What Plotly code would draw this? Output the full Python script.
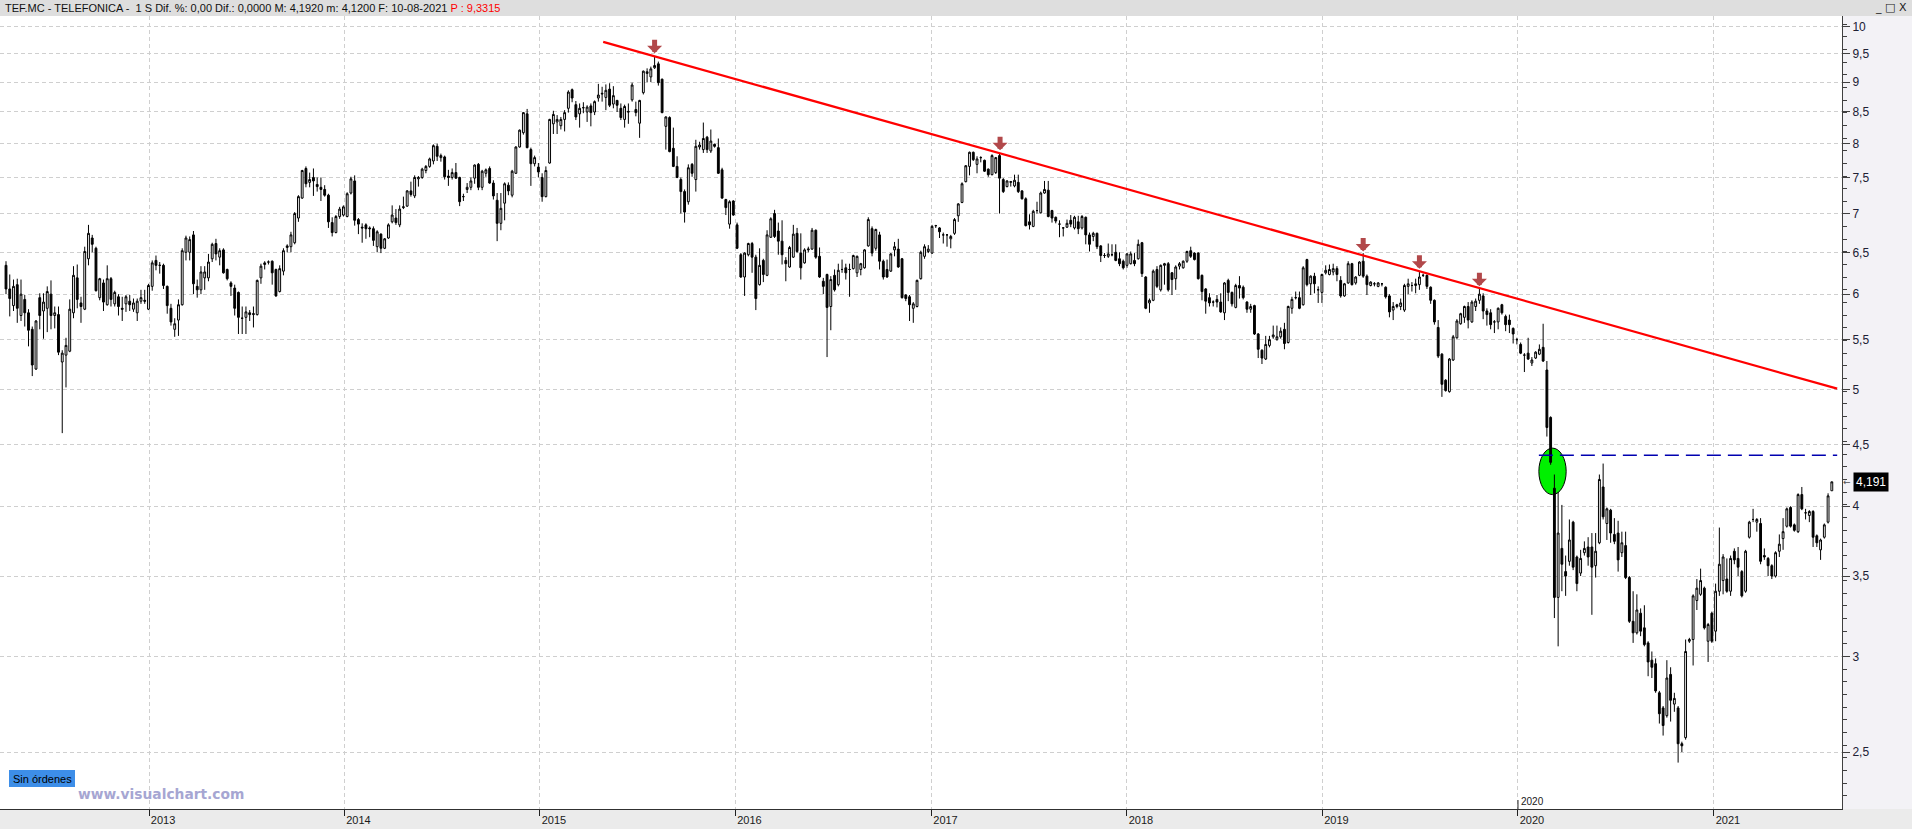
import numpy as np
import pandas as pd
import plotly.graph_objects as go

# ---------------- weekly bars (open, high, low, close) ----------------
w2012 = [
 (6.34,6.39,6.00,6.06),(6.06,6.23,5.75,5.95),(5.87,6.17,5.81,6.09),(6.11,6.18,5.68,5.84),
 (5.76,6.17,5.70,6.00),(5.94,5.99,5.64,5.79),(5.79,5.83,5.43,5.60),(5.61,5.64,5.13,5.24),
 (5.20,5.71,5.19,5.70),(5.96,6.01,5.61,5.76),(5.81,6.01,5.51,5.91),(5.84,6.09,5.58,6.03),
 (6.00,6.16,5.61,5.76),(5.76,5.86,5.62,5.79),(5.77,5.86,5.34,5.37),(5.27,5.39,4.60,5.36),
 (5.34,5.52,5.02,5.44),(5.38,5.94,5.37,5.83),(5.79,6.33,5.73,6.22),(6.19,6.35,5.84,5.94),
 (5.90,5.97,5.68,5.86),(5.83,6.57,5.82,6.51),(6.42,6.85,6.34,6.74),(6.68,6.72,6.50,6.60),
 (6.55,6.57,6.03,6.04),(5.96,6.19,5.93,6.18),(6.13,6.17,5.81,5.91),(5.88,6.34,5.87,6.18),
 (6.18,6.20,5.86,5.94),(5.89,6.04,5.86,6.02),(5.97,6.00,5.76,5.86),(5.84,5.97,5.70,5.83),
 (5.89,5.99,5.80,5.97),(5.92,5.99,5.81,5.88),(5.83,5.95,5.80,5.90),(5.79,5.95,5.70,5.92),
 (5.92,6.05,5.89,5.96),(5.93,6.05,5.89,5.92),
]
w2013 = [
 (5.83,6.12,5.82,6.10),(6.09,6.40,6.04,6.37),(6.40,6.46,6.28,6.34),(6.34,6.38,6.24,6.34),
 (6.34,6.36,6.06,6.10),(6.09,6.10,5.78,5.87),(5.84,5.89,5.65,5.69),(5.61,5.73,5.53,5.67),
 (5.71,5.94,5.54,5.88),(5.88,6.55,5.87,6.52),(6.50,6.71,6.40,6.68),(6.50,6.70,6.40,6.66),
 (6.72,6.77,6.00,6.12),(6.09,6.17,5.96,6.05),(6.05,6.33,6.00,6.26),(6.19,6.33,6.05,6.26),
 (6.19,6.48,6.15,6.38),(6.42,6.62,6.38,6.60),(6.61,6.67,6.40,6.48),(6.44,6.55,6.34,6.52),
 (6.53,6.55,6.24,6.25),(6.29,6.30,6.16,6.18),(6.13,6.15,5.98,6.09),(6.07,6.11,5.76,5.84),
 (6.02,6.03,5.56,5.74),(5.73,5.86,5.56,5.73),(5.74,5.86,5.56,5.80),(5.79,5.82,5.70,5.77),
 (5.77,5.86,5.63,5.78),(5.77,6.17,5.76,6.16),(6.19,6.36,6.12,6.33),(6.35,6.39,6.29,6.37),
 (6.38,6.40,6.35,6.38),(6.39,6.40,6.11,6.25),(6.29,6.30,5.97,5.98),(6.03,6.34,6.02,6.30),
 (6.27,6.55,6.22,6.52),(6.56,6.60,6.50,6.58),(6.57,6.76,6.50,6.72),(6.62,7.02,6.60,7.00),
 (6.94,7.25,6.89,7.23),(7.21,7.61,7.20,7.60),(7.63,7.66,7.36,7.41),(7.43,7.57,7.36,7.47),
 (7.50,7.63,7.24,7.45),(7.40,7.50,7.30,7.37),(7.36,7.50,7.17,7.33),(7.33,7.39,7.23,7.25),
 (7.25,7.27,6.81,6.89),(6.88,6.95,6.70,6.75),(6.75,6.98,6.74,6.96),(6.96,7.09,6.93,7.06),
]
w2014 = [
 (6.98,7.11,6.96,7.09),(6.96,7.29,6.95,7.27),(7.28,7.51,7.26,7.48),(7.45,7.53,6.84,6.91),
 (6.92,6.94,6.73,6.86),(6.82,6.87,6.62,6.81),(6.85,6.87,6.67,6.80),(6.81,6.83,6.69,6.80),
 (6.80,6.83,6.58,6.65),(6.57,6.78,6.50,6.76),(6.73,6.74,6.49,6.55),(6.55,6.68,6.54,6.67),
 (6.68,6.87,6.67,6.85),(6.89,7.11,6.87,6.98),(6.94,7.06,6.85,6.88),(6.85,7.11,6.82,7.06),
 (7.08,7.23,7.06,7.09),(7.10,7.32,7.09,7.31),(7.31,7.44,7.23,7.26),(7.24,7.53,7.21,7.50),
 (7.48,7.52,7.37,7.50),(7.50,7.64,7.48,7.62),(7.60,7.68,7.56,7.66),(7.66,7.79,7.64,7.77),
 (7.74,7.99,7.69,7.97),(7.96,8.00,7.74,7.81),(7.79,7.85,7.73,7.82),(7.80,7.82,7.47,7.51),
 (7.52,7.61,7.38,7.50),(7.50,7.63,7.47,7.57),(7.57,7.71,7.48,7.49),(7.50,7.51,7.10,7.16),
 (7.23,7.27,7.17,7.23),(7.33,7.42,7.28,7.36),(7.36,7.50,7.32,7.45),(7.49,7.69,7.41,7.68),
 (7.69,7.71,7.32,7.36),(7.36,7.61,7.32,7.59),(7.56,7.63,7.51,7.61),(7.63,7.66,7.41,7.42),
 (7.42,7.46,7.19,7.24),(7.18,7.28,6.64,6.87),(6.87,7.28,6.78,7.07),(7.14,7.43,6.91,7.41),
 (7.39,7.43,7.25,7.31),(7.25,7.61,7.22,7.59),(7.56,7.96,7.55,7.95),(7.95,8.22,7.94,8.21),
 (8.17,8.50,8.14,8.49),(8.47,8.55,7.93,7.94),(7.91,7.94,7.38,7.70),(7.70,7.82,7.66,7.79),
]
w2015 = [
 (7.65,7.71,7.50,7.58),(7.50,7.56,7.16,7.23),(7.23,7.66,7.22,7.60),(7.71,8.39,7.70,8.38),
 (8.31,8.52,8.15,8.46),(8.34,8.45,8.15,8.38),(8.28,8.42,8.22,8.38),(8.38,8.53,8.19,8.49),
 (8.56,8.86,8.49,8.83),(8.87,8.89,8.66,8.73),(8.62,8.68,8.37,8.42),(8.47,8.64,8.25,8.56),
 (8.57,8.66,8.48,8.57),(8.50,8.61,8.34,8.58),(8.60,8.64,8.27,8.49),(8.50,8.69,8.45,8.67),
 (8.73,8.97,8.67,8.78),(8.81,8.92,8.67,8.80),(8.74,8.96,8.53,8.86),(8.88,8.98,8.58,8.61),
 (8.63,8.93,8.56,8.77),(8.69,8.70,8.50,8.61),(8.56,8.64,8.37,8.41),(8.38,8.62,8.25,8.59),
 (8.51,8.64,8.31,8.50),(8.70,8.99,8.67,8.95),(8.54,8.67,8.43,8.49),(8.32,8.70,8.09,8.69),
 (8.82,9.20,8.79,9.19),(9.15,9.24,9.00,9.18),(9.09,9.27,9.00,9.23),(9.25,9.45,9.23,9.29),
 (9.32,9.36,8.94,8.99),(9.05,9.06,8.48,8.49),(8.27,8.43,7.91,8.42),(8.41,8.43,7.87,7.88),
 (7.93,8.25,7.65,7.66),(7.66,7.81,7.49,7.50),(7.47,7.50,7.00,7.30),(7.30,7.33,6.88,7.02),
 (7.16,7.69,7.12,7.64),(7.69,7.71,7.51,7.56),(7.47,8.06,7.30,7.96),(7.95,8.03,7.91,7.98),
 (7.91,8.33,7.86,8.08),(8.10,8.12,7.86,7.91),(7.89,8.22,7.86,8.04),(7.99,8.00,7.94,7.96),
 (7.94,8.08,7.55,7.56),(7.61,7.64,7.20,7.21),(7.19,7.20,6.98,7.08),(6.86,7.18,6.80,7.16),
 (7.17,7.18,6.97,6.98),
]
w2016 = [
 (6.85,6.88,6.54,6.55),(6.47,6.49,6.19,6.20),(6.20,6.50,5.98,6.49),(6.47,6.62,6.45,6.61),
 (6.61,6.63,6.25,6.44),(6.44,6.47,5.82,5.95),(6.11,6.55,6.10,6.34),(6.40,6.42,6.14,6.23),
 (6.22,6.78,6.21,6.72),(6.69,6.95,6.68,6.93),(7.00,7.05,6.68,6.70),(6.77,6.88,6.47,6.64),
 (6.64,6.91,6.35,6.47),(6.40,6.44,6.15,6.36),(6.32,6.58,6.31,6.56),(6.44,6.85,6.43,6.73),
 (6.74,6.81,6.49,6.51),(6.49,6.74,6.17,6.31),(6.37,6.55,6.36,6.53),(6.53,6.57,6.50,6.54),
 (6.54,6.81,6.53,6.78),(6.78,6.79,6.42,6.44),(6.45,6.56,6.19,6.20),(6.15,6.19,6.00,6.09),
 (6.23,6.24,5.32,5.85),(5.86,6.21,5.60,6.17),(6.22,6.29,6.03,6.05),(6.11,6.36,6.09,6.28),
 (6.29,6.41,6.25,6.29),(6.31,6.36,6.17,6.25),(6.29,6.36,5.97,6.29),(6.30,6.47,6.29,6.46),
 (6.25,6.46,6.20,6.45),(6.29,6.37,6.22,6.36),(6.31,6.54,6.30,6.53),(6.58,6.95,6.57,6.92),
 (6.80,6.83,6.45,6.49),(6.55,6.80,6.52,6.79),(6.72,6.76,6.29,6.39),(6.39,6.41,6.17,6.20),
 (6.29,6.41,6.19,6.20),(6.27,6.49,6.26,6.48),(6.53,6.63,6.45,6.57),(6.54,6.67,6.31,6.32),
 (6.42,6.43,5.95,5.96),(5.99,6.00,5.92,5.95),(5.97,5.99,5.70,5.88),(5.84,5.91,5.68,5.89),
 (5.86,6.17,5.85,6.16),(6.18,6.52,6.17,6.50),(6.45,6.60,6.42,6.57),(6.51,6.59,6.49,6.54),
]
w2017 = [
 (6.49,6.85,6.48,6.83),(6.84,6.85,6.81,6.84),(6.81,6.82,6.68,6.76),(6.72,6.75,6.61,6.72),
 (6.72,6.73,6.57,6.72),(6.67,6.72,6.55,6.70),(6.74,6.94,6.72,6.92),(6.97,7.14,6.89,7.13),
 (7.15,7.43,7.14,7.41),(7.44,7.68,7.43,7.67),(7.66,7.88,7.53,7.87),(7.87,7.88,7.74,7.76),
 (7.69,7.81,7.56,7.77),(7.79,7.81,7.72,7.79),(7.75,7.76,7.58,7.59),(7.62,7.63,7.51,7.54),
 (7.54,7.84,7.53,7.82),(7.57,7.80,7.55,7.79),(7.82,7.86,7.00,7.49),(7.47,7.49,7.28,7.30),
 (7.37,7.46,7.36,7.45),(7.43,7.45,7.37,7.44),(7.38,7.54,7.36,7.46),(7.43,7.54,7.28,7.30),
 (7.31,7.32,7.19,7.20),(7.20,7.22,6.83,6.84),(6.89,6.99,6.79,6.85),(6.83,7.05,6.82,7.03),
 (7.04,7.16,7.00,7.04),(7.01,7.30,7.00,7.28),(7.28,7.45,7.27,7.33),(7.32,7.45,6.95,6.96),
 (7.04,7.05,6.88,6.94),(6.95,6.96,6.87,6.90),(6.86,6.91,6.69,6.86),(6.81,6.82,6.70,6.81),
 (6.82,6.92,6.81,6.87),(6.91,6.98,6.82,6.86),(6.81,6.97,6.79,6.95),(6.89,6.97,6.73,6.80),
 (6.81,6.98,6.79,6.96),(6.95,6.96,6.60,6.72),(6.72,6.75,6.51,6.60),(6.70,6.76,6.64,6.74),
 (6.74,6.75,6.54,6.57),(6.58,6.59,6.38,6.46),(6.46,6.49,6.43,6.46),(6.45,6.61,6.43,6.48),
 (6.47,6.60,6.45,6.47),(6.50,6.60,6.39,6.40),(6.42,6.50,6.33,6.36),(6.39,6.41,6.29,6.31),
]
w2018 = [
 (6.34,6.49,6.31,6.48),(6.36,6.51,6.35,6.48),(6.40,6.49,6.33,6.36),(6.42,6.66,6.41,6.60),
 (6.62,6.63,6.20,6.24),(6.20,6.21,5.83,5.84),(5.90,5.95,5.79,5.93),(5.93,6.29,5.92,6.27),
 (6.29,6.33,6.07,6.09),(6.05,6.35,6.03,6.34),(6.34,6.37,6.11,6.36),(6.36,6.38,6.03,6.05),
 (6.25,6.26,5.99,6.17),(6.18,6.34,6.05,6.32),(6.33,6.38,6.29,6.36),(6.31,6.40,6.30,6.39),
 (6.39,6.52,6.37,6.51),(6.52,6.57,6.43,6.45),(6.49,6.50,6.40,6.41),(6.49,6.50,6.17,6.18),
 (6.22,6.23,5.93,6.03),(6.06,6.07,5.78,5.92),(5.96,6.01,5.86,5.90),(5.91,5.93,5.86,5.91),
 (5.94,5.99,5.85,5.91),(5.91,6.01,5.79,5.80),(5.79,6.14,5.71,6.13),(6.16,6.18,5.92,6.02),
 (6.02,6.03,5.86,5.89),(5.85,6.12,5.84,6.10),(6.10,6.21,5.95,6.07),(6.08,6.10,5.94,5.96),
 (5.91,5.92,5.79,5.83),(5.83,5.89,5.79,5.86),(5.87,5.88,5.55,5.56),(5.56,5.57,5.31,5.40),
 (5.39,5.40,5.25,5.31),(5.30,5.54,5.29,5.45),(5.44,5.54,5.42,5.50),(5.53,5.65,5.51,5.55),
 (5.50,5.65,5.49,5.53),(5.53,5.63,5.51,5.59),(5.61,5.68,5.40,5.46),(5.47,5.87,5.46,5.86),
 (5.84,5.97,5.78,5.94),(5.96,6.03,5.94,5.96),(5.96,6.03,5.83,5.84),(5.88,6.33,5.87,6.31),
 (6.41,6.42,6.09,6.11),(6.12,6.22,5.99,6.21),(6.21,6.25,6.01,6.12),(6.05,6.09,5.90,6.05),
 (6.02,6.24,5.90,6.23),
]
w2019 = [
 (6.25,6.34,6.23,6.28),(6.23,6.35,6.22,6.29),(6.26,6.36,6.22,6.30),(6.30,6.33,6.15,6.23),
 (6.16,6.21,5.96,5.98),(5.98,6.13,5.97,6.12),(6.13,6.39,6.12,6.36),(6.36,6.37,6.10,6.11),
 (6.13,6.21,6.11,6.20),(6.22,6.39,6.21,6.38),(6.39,6.49,6.19,6.21),(6.21,6.23,5.99,6.11),
 (6.10,6.15,6.09,6.14),(6.12,6.14,6.09,6.12),(6.09,6.14,6.08,6.13),(6.12,6.13,6.09,6.12),
 (6.08,6.09,5.95,5.97),(5.98,6.00,5.74,5.80),(5.82,5.91,5.71,5.86),(5.86,5.89,5.84,5.88),
 (5.86,5.95,5.82,5.90),(5.82,6.12,5.80,6.10),(6.09,6.18,6.00,6.12),(6.10,6.14,6.03,6.10),
 (6.10,6.18,6.01,6.12),(6.11,6.26,6.05,6.20),(6.22,6.24,6.20,6.22),(6.22,6.23,6.06,6.09),
 (6.08,6.09,5.89,5.93),(5.93,5.94,5.66,5.69),(5.63,5.71,5.31,5.33),(5.35,5.36,4.93,5.05),
 (5.09,5.10,4.98,4.99),(4.98,5.31,4.97,5.30),(5.29,5.55,5.28,5.53),(5.52,5.72,5.51,5.70),
 (5.67,5.79,5.66,5.78),(5.74,5.87,5.68,5.86),(5.86,5.91,5.62,5.71),(5.69,5.93,5.68,5.91),
 (5.86,5.95,5.81,5.92),(5.93,6.06,5.89,6.00),(5.98,6.01,5.72,5.81),(5.81,5.84,5.65,5.77),
 (5.79,5.83,5.61,5.66),(5.69,5.71,5.57,5.69),(5.69,5.85,5.61,5.84),(5.88,5.89,5.77,5.79),
 (5.75,5.77,5.59,5.66),(5.71,5.77,5.57,5.66),(5.62,5.63,5.46,5.56),(5.50,5.52,5.45,5.50),
]
w2020 = [
 (5.45,5.47,5.35,5.36),(5.34,5.36,5.17,5.34),(5.36,5.52,5.29,5.30),(5.26,5.32,5.23,5.29),
 (5.31,5.38,5.30,5.37),(5.35,5.45,5.34,5.40),(5.42,5.67,5.27,5.28),(5.19,5.28,4.57,4.65),
 (4.74,4.75,4.33,4.35),(4.14,4.25,3.23,3.36),(3.36,4.11,3.06,3.80),(3.69,4.01,3.40,3.58),
 (3.53,3.64,3.37,3.50),(3.60,3.90,3.57,3.75),(3.88,3.89,3.54,3.56),(3.63,3.64,3.40,3.45),
 (3.52,3.68,3.50,3.62),(3.66,3.74,3.64,3.69),(3.70,3.77,3.57,3.63),(3.70,3.80,3.25,3.56),
 (3.57,3.80,3.49,3.67),(3.73,4.25,3.72,4.21),(4.15,4.34,3.90,3.92),(3.87,3.99,3.75,3.98),
 (3.97,3.98,3.73,3.80),(3.79,3.91,3.72,3.74),(3.80,3.89,3.53,3.61),(3.66,3.81,3.63,3.73),
 (3.71,3.81,3.48,3.49),(3.49,3.50,3.20,3.21),(3.21,3.40,3.08,3.14),(3.14,3.38,3.13,3.28),
 (3.26,3.29,3.12,3.15),(3.17,3.31,3.06,3.07),(3.08,3.09,2.89,2.97),(2.98,3.03,2.88,2.94),
 (2.96,2.99,2.80,2.81),(2.80,2.81,2.64,2.69),(2.72,2.73,2.58,2.63),(2.68,2.98,2.67,2.88),
 (2.90,2.94,2.65,2.76),(2.74,2.80,2.70,2.77),(2.72,2.73,2.45,2.54),(2.54,2.55,2.50,2.53),
 (2.57,3.10,2.56,3.03),(3.09,3.11,3.08,3.10),(3.10,3.38,2.95,3.37),(3.34,3.48,3.28,3.42),
 (3.38,3.55,3.37,3.47),(3.42,3.43,3.16,3.17),(3.09,3.20,2.97,3.19),(3.26,3.27,3.08,3.09),
]
w2021 = [
 (3.15,3.45,3.09,3.40),(3.40,3.84,3.37,3.58),(3.47,3.65,3.38,3.63),(3.48,3.62,3.39,3.40),
 (3.40,3.64,3.37,3.62),(3.67,3.69,3.58,3.61),(3.62,3.70,3.50,3.56),(3.53,3.54,3.36,3.37),
 (3.40,3.68,3.39,3.67),(3.77,3.89,3.76,3.88),(3.90,3.98,3.88,3.90),(3.88,3.91,3.81,3.90),
 (3.87,3.91,3.58,3.60),(3.64,3.69,3.61,3.63),(3.62,3.63,3.50,3.57),(3.57,3.58,3.48,3.50),
 (3.50,3.67,3.49,3.66),(3.67,3.79,3.63,3.72),(3.76,3.91,3.68,3.81),(3.85,3.99,3.84,3.98),
 (3.99,4.00,3.84,3.85),(3.86,3.87,3.81,3.82),(3.81,4.10,3.80,4.09),(4.09,4.15,3.97,3.98),
 (3.95,3.98,3.90,3.95),(3.93,3.97,3.88,3.96),(3.96,3.97,3.70,3.77),(3.78,3.79,3.70,3.73),
 (3.68,3.76,3.61,3.75),(3.77,3.87,3.76,3.86),(3.88,4.10,3.87,4.08),(4.12,4.192,4.12,4.191),
]
last_bar_date = "2021-08-09"

# axis ticks
price_ticks = [2.5, 3, 3.5, 4, 4.5, 5, 5.5, 6, 6.5, 7, 7.5, 8, 8.5, 9, 9.5, 10]
price_labels = ["2,5", "3", "3,5", "4", "4,5", "5", "5,5", "6", "6,5", "7", "7,5", "8", "8,5", "9", "9,5", "10"]
year_ticks = ["2013-01-01", "2014-01-01", "2015-01-01", "2016-01-01", "2017-01-01",
              "2018-01-01", "2019-01-01", "2020-01-01", "2021-01-01"]
year_labels = ["2013", "2014", "2015", "2016", "2017", "2018", "2019", "2020", "2021"]

# drawings
trend_dates = ["2015-04-29", "2021-08-19"]
trend_prices = [9.72, 5.008]
level_dates = ["2020-02-09", "2021-08-19"]
level_prices = [4.41, 4.41]
peak_dates = ["2015-08-03", "2017-05-09", "2019-03-18", "2019-07-01", "2019-10-21"]
peak_prices = [9.51, 7.90, 6.51, 6.30, 6.09]
ellipse_dates = ["2020-02-09", "2020-03-31"]
ellipse_prices = [4.09, 4.47]
last_price = 4.191
last_price_text = "4,191"

# ---------------------------------------------------------------------
bars = w2012 + w2013 + w2014 + w2015 + w2016 + w2017 + w2018 + w2019 + w2020 + w2021
opens = [b[0] for b in bars]
highs = [b[1] for b in bars]
lows = [b[2] for b in bars]
closes = [b[3] for b in bars]
dates = pd.date_range(end=last_bar_date, periods=len(bars), freq="7D")

W, H = 1912, 829
ML, MR, MT, MB = 0, 70, 16, 20
PW, PH = W - ML - MR, H - MT - MB

def fx(px):
    return (px - ML) / PW

def fy(py):
    return (H - MB - py) / PH

FONT = "Liberation Sans"

fig = go.Figure()
fig.add_trace(go.Candlestick(
    x=dates, open=opens, high=highs, low=lows, close=closes,
    increasing=dict(line=dict(color="black", width=1), fillcolor="white"),
    decreasing=dict(line=dict(color="black", width=1), fillcolor="black"),
    whiskerwidth=0, hoverinfo="skip", showlegend=False,
))
fig.add_trace(go.Scatter(x=trend_dates, y=trend_prices, mode="lines",
                         line=dict(color="#ff0000", width=2.2), hoverinfo="skip", showlegend=False))
fig.add_trace(go.Scatter(x=level_dates, y=level_prices, mode="lines",
                         line=dict(color="#0000b0", width=1.5, dash="14px,7px"),
                         hoverinfo="skip", showlegend=False))

shapes = [
    # header bar
    dict(type="rect", xref="paper", yref="paper", x0=fx(0), x1=fx(W), y0=fy(16), y1=fy(0),
         fillcolor="#dedede", line=dict(width=0), layer="below"),
    # bottom axis band
    dict(type="rect", xref="paper", yref="paper", x0=fx(0), x1=fx(W), y0=fy(H), y1=fy(809),
         fillcolor="#ebebeb", line=dict(width=0), layer="below"),
    # green ellipse
    dict(type="circle", xref="x", yref="y", x0=ellipse_dates[0], x1=ellipse_dates[1],
         y0=ellipse_prices[0], y1=ellipse_prices[1], fillcolor="#00f000",
         line=dict(color="black", width=1), layer="below"),
    # "Sin órdenes" box
    dict(type="rect", xref="paper", yref="paper", x0=fx(9), x1=fx(75), y0=fy(787), y1=fy(770),
         fillcolor="#3d8ee8", line=dict(width=0)),
    # period tick for the 2020 marker
    dict(type="line", xref="x", yref="paper", x0="2020-01-01", x1="2020-01-01",
         y0=fy(809), y1=fy(800), line=dict(color="#202020", width=1)),
]

annotations = [
    dict(xref="paper", yref="paper", x=fx(3), y=fy(8), xanchor="left", yanchor="middle",
         showarrow=False, font=dict(family=FONT, size=11, color="#101010"),
         text="TEF.MC - TELEFONICA - &nbsp;1 S Dif. %: 0,00 Dif.: 0,0000 M: 4,1920 "
              "m: 4,1200 F: 10-08-2021 <span style='color:#ff0000'>P : 9,3315</span>"),
    dict(xref="paper", yref="paper", x=fx(1891), y=fy(8), xanchor="center", yanchor="middle",
         showarrow=False, font=dict(family="DejaVu Sans", size=11, color="#202020"),
         text="_ □ X"),
    dict(xref="paper", yref="paper", x=fx(42), y=fy(778.5), xanchor="center", yanchor="middle",
         showarrow=False, font=dict(family=FONT, size=11, color="#000000"), text="Sin órdenes"),
    dict(xref="paper", yref="paper", x=fx(76), y=fy(793.5), xanchor="left", yanchor="middle",
         showarrow=False, font=dict(family="DejaVu Sans", size=13.8, color="#a6a6d2"),
         text="<b>www.visualchart.com</b>"),
    dict(xref="x", yref="paper", x="2020-01-01", y=fy(801), xanchor="left", yanchor="middle",
         xshift=1, showarrow=False, font=dict(family=FONT, size=10, color="#202020"), text="2020"),
    dict(xref="paper", yref="y", x=fx(1853), y=np.log10(last_price), xanchor="left", yanchor="middle",
         showarrow=False, bgcolor="#000000", borderpad=2,
         font=dict(family=FONT, size=12, color="#ffffff"), text=last_price_text),
    dict(xref="paper", yref="y", x=fx(1847), y=np.log10(last_price), xanchor="center", yanchor="middle",
         showarrow=False, font=dict(family="DejaVu Sans", size=9, color="#505050"), text="←"),
]
for d, p in zip(peak_dates, peak_prices):
    annotations.append(dict(xref="x", yref="y", x=d, y=np.log10(p), text="", showarrow=True,
                            ax=0, ay=-15, arrowhead=1, arrowsize=0.5, arrowwidth=5,
                            arrowcolor="#b2484a", standoff=0))

minor_vals = list(10 ** np.arange(np.log10(2.3), 1.005, 0.0105))

fig.update_layout(
    width=W, height=H, margin=dict(l=ML, r=MR, t=MT, b=MB, autoexpand=False),
    paper_bgcolor="#f3f2f6", plot_bgcolor="#ffffff",
    showlegend=False, hovermode=False,
    shapes=shapes, annotations=annotations,
    font=dict(family=FONT, size=12, color="#202020"),
    xaxis=dict(
        type="date", range=["2012-03-28 19:00", "2021-08-28"],
        rangeslider=dict(visible=False),
        tickmode="array", tickvals=year_ticks, ticktext=year_labels,
        ticks="outside", ticklen=6, tickcolor="#202020", tickwidth=1,
        ticklabelshift=14, ticklabelstandoff=-5,
        tickfont=dict(family=FONT, size=11, color="#1a1a1a"),
        showgrid=True, gridcolor="#cfcfcf", griddash="4px,3px", gridwidth=1,
        showline=True, linecolor="#303030", linewidth=1,
        zeroline=False, fixedrange=True,
    ),
    yaxis=dict(
        type="log", side="right",
        range=[0.35064, 1.00913],
        tickmode="array", tickvals=price_ticks, ticktext=price_labels,
        ticks="outside", ticklen=7, tickcolor="#404040",
        tickfont=dict(family=FONT, size=12, color="#202034"),
        minor=dict(tickmode="array", tickvals=minor_vals, ticks="outside", ticklen=4,
                   tickcolor="#404040", showgrid=False),
        showgrid=True, gridcolor="#cfcfcf", griddash="4px,3px", gridwidth=1,
        showline=True, linecolor="#404040", linewidth=1,
        zeroline=False, fixedrange=True,
    ),
)

fig.write_html("out.html")
